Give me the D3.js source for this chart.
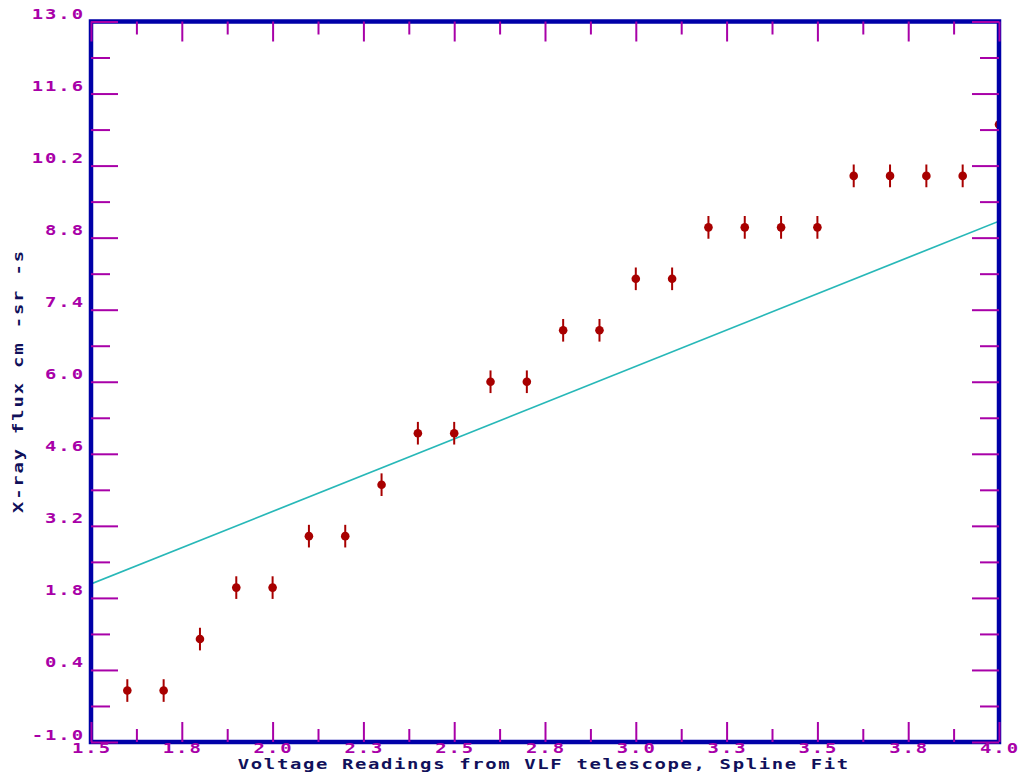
<!DOCTYPE html>
<html>
<head>
<meta charset="utf-8">
<script src="https://cdn.jsdelivr.net/npm/d3@7"></script>
<style>
body { margin:0; background:#fff; }
text { font-family:"DejaVu Sans Mono", monospace; font-weight:bold; }
</style>
</head>
<body>
<div id="main"></div>
<script>
// donnees
const voltage = [1.6,1.7,1.8,1.9,2.0,2.1,2.2,2.3,2.4,2.5,2.6,2.7,2.8,2.9,3.0,3.1,3.2,3.3,3.4,3.5,3.6,3.7,3.8,3.9,4.0]
const flux = [0,0,1,2,2,3,3,4,5,5,6,6,7,7,8,8,9,9,9,9,10,10,10,10,11]
const fluxErr = 0.22
const fitX = [1.5, 4.0]
const fitY = [2.07, 9.12]
const xTickValues = [1.5,1.75,2.0,2.25,2.5,2.75,3.0,3.25,3.5,3.75,4.0]
const xTickLabels = ["1.5","1.8","2.0","2.3","2.5","2.8","3.0","3.3","3.5","3.8","4.0"]
const yTickValues = [13.0,11.6,10.2,8.8,7.4,6.0,4.6,3.2,1.8,0.4,-1.0]
const yTickLabels = ["13.0","11.6","10.2","8.8","7.4","6.0","4.6","3.2","1.8","0.4","-1.0"]
const xTitle = "Voltage Readings from VLF telescope, Spline Fit"
const yTitle = "X-ray flux cm -sr -s"

const W = 1019, H = 776
const m = {left:91, right:999, top:21.5, bottom:742}
const tickCol = "#a800a8", frameCol = "#0000a8", ptCol = "#a80000", titleCol = "#10105a"
const sx = 1.35   // police "pixel" elargie

let svg = d3.select("#main").append("svg").attr("width", W).attr("height", H)

let x = d3.scaleLinear().domain([1.5, 4.0]).range([m.left, m.right])
let y = d3.scaleLinear().domain([-1, 13]).range([m.bottom, m.top])

// ticks mineurs = milieux des ticks majeurs
let xMinor = d3.range(xTickValues.length-1).map(i => (xTickValues[i]+xTickValues[i+1])/2)
let yMinor = d3.range(yTickValues.length-1).map(i => (yTickValues[i]+yTickValues[i+1])/2)

svg.append("clipPath").attr("id","clip")
    .append("rect").attr("x",m.left).attr("y",m.top)
    .attr("width",m.right-m.left).attr("height",m.bottom-m.top)

let plot = svg.append("g").attr("clip-path","url(#clip)")

// droite
let line = d3.line().x(d => x(d[0])).y(d => y(d[1]))
plot.append("path")
    .datum(fitX.map((v,i) => [v, fitY[i]]))
    .attr("fill","none")
    .attr("stroke","#28b8b8")
    .attr("stroke-width",1.7)
    .attr("d", line)

// points avec barres d'erreur
let pts = voltage.map((v,i) => ({x:v, y:flux[i]}))
plot.selectAll(".err").data(pts).enter().append("line")
    .attr("x1", d => x(d.x)).attr("x2", d => x(d.x))
    .attr("y1", d => y(d.y+fluxErr)).attr("y2", d => y(d.y-fluxErr))
    .attr("stroke", ptCol).attr("stroke-width", 2)
plot.selectAll(".pt").data(pts).enter().append("circle")
    .attr("cx", d => x(d.x)).attr("cy", d => y(d.y))
    .attr("r", 4.3).attr("fill", ptCol)

// cadre
svg.append("rect")
    .attr("x",m.left).attr("y",m.top)
    .attr("width",m.right-m.left).attr("height",m.bottom-m.top)
    .attr("fill","none").attr("stroke",frameCol).attr("stroke-width",4.5)

function ticks(axis, tx, ty)
{
    let g = svg.append("g").attr("transform","translate("+tx+","+ty+")").call(axis)
    g.select(".domain").remove()
    g.selectAll("text").remove()
    g.selectAll("line").attr("stroke",tickCol).attr("stroke-width",2)
}

// ticks gauche / droite
ticks(d3.axisRight(y).tickValues(yTickValues).tickSize(27), m.left, 0)
ticks(d3.axisRight(y).tickValues(yMinor).tickSize(19), m.left, 0)
ticks(d3.axisLeft(y).tickValues(yTickValues).tickSize(27), m.right, 0)
ticks(d3.axisLeft(y).tickValues(yMinor).tickSize(19), m.right, 0)
// ticks bas / haut
ticks(d3.axisTop(x).tickValues(xTickValues).tickSize(20), 0, m.bottom)
ticks(d3.axisTop(x).tickValues(xMinor).tickSize(13), 0, m.bottom)
ticks(d3.axisBottom(x).tickValues(xTickValues).tickSize(20), 0, m.top)
ticks(d3.axisBottom(x).tickValues(xMinor).tickSize(13), 0, m.top)

// texte elargi horizontalement
function label(px, py, rot, anchor, txt, col, ls)
{
    let g = svg.append("g").attr("transform","translate("+px+","+py+") rotate("+rot+")")
    let shift = anchor=="end" ? ls : (anchor=="middle" ? ls/2 : 0)
    g.append("text")
        .attr("transform","scale("+sx+",1)")
        .attr("x", shift)
        .attr("text-anchor", anchor)
        .style("font-size","14px").style("letter-spacing", ls+"px")
        .attr("fill", col)
        .text(txt)
}

yTickValues.forEach((v,i) => label(83, y(v) - 2.5, 0, "end", yTickLabels[i], tickCol, 1.45))
xTickValues.forEach((v,i) => label(x(v), 753, 0, "middle", xTickLabels[i], tickCol, 1.45))

label(543, 769, 0, "middle", xTitle, titleCol, 1.22)
label(23, 382, -90, "middle", yTitle, titleCol, 1.35)
</script>
</body>
</html>
